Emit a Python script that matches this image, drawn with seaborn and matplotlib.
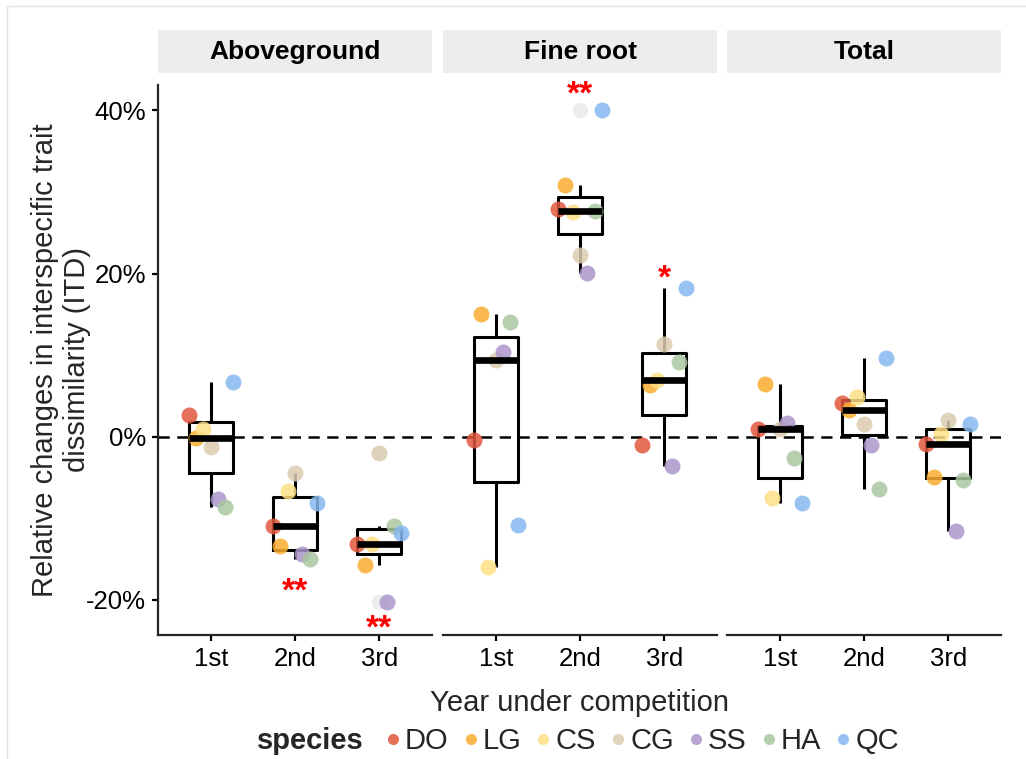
import numpy as np
import pandas as pd
import matplotlib
matplotlib.use("Agg")
import matplotlib.pyplot as plt
import matplotlib.transforms as mtransforms
from matplotlib.patches import Rectangle
from matplotlib.lines import Line2D
import seaborn as sns

# ---------------- data ----------------
panels = ["Aboveground", "Fine root", "Total"]
years = ["1st", "2nd", "3rd"]
species = ["DO", "LG", "CS", "CG", "SS", "HA", "QC"]
species_colors = ["#E2583E", "#F8AD2F", "#FDE084", "#DCCCB0", "#AD95C9", "#A8C7A1", "#86B8EF"]

# relative change (%) per species (order as in `species`)
aboveground_1st = [2.6, -0.2, 0.9, -1.3, -7.6, -8.6, 6.7]
aboveground_2nd = [-11.0, -13.4, -6.6, -4.5, -14.4, -15.0, -8.1]
aboveground_3rd = [-13.1, -15.7, -13.1, -2.0, -20.3, -10.9, -11.8]

fineroot_1st = [-0.4, 15.0, -16.0, 9.4, 10.4, 14.0, -10.8]
fineroot_2nd = [27.9, 30.9, 27.5, 22.3, 20.1, 27.6, 40.0]
fineroot_3rd = [-1.0, 6.3, 7.0, 11.4, -3.6, 9.1, 18.2]

total_1st = [1.0, 6.5, -7.5, 1.0, 1.7, -2.6, -8.1]
total_2nd = [4.1, 3.3, 4.9, 1.5, -1.0, -6.4, 9.7]
total_3rd = [-0.9, -4.9, 0.3, 2.0, -11.6, -5.3, 1.5]

y_ticks = [-20, 0, 20, 40]
y_ticklabels = ["-20%", "0%", "20%", "40%"]

sig_panel = ["Aboveground", "Aboveground", "Fine root", "Fine root"]
sig_year = ["2nd", "3rd", "2nd", "3rd"]
sig_label = ["**", "**", "**", "*"]
sig_y = [-18.1, -22.6, 42.8, 20.3]

values = {
    "Aboveground": [aboveground_1st, aboveground_2nd, aboveground_3rd],
    "Fine root": [fineroot_1st, fineroot_2nd, fineroot_3rd],
    "Total": [total_1st, total_2nd, total_3rd],
}
rows = []
for p in panels:
    for yi, yr in enumerate(years):
        for si, sp in enumerate(species):
            rows.append({"panel": p, "year": yr, "species": sp, "value": values[p][yi][si]})
df = pd.DataFrame(rows)
palette = dict(zip(species, species_colors))

# ---------------- style ----------------
sns.set_theme(style="ticks")
plt.rcParams["font.family"] = ["Liberation Sans", "DejaVu Sans"]

W, H = 1026, 759
fig = plt.figure(figsize=(W / 100, H / 100), dpi=100)
fig.patch.set_facecolor("white")

lefts = [158, 443, 727]
pw = 274
ptop, pbot = 85, 635

axes = {}
for i, p in enumerate(panels):
    ax = fig.add_axes([lefts[i] / W, 1 - pbot / H, pw / W, (pbot - ptop) / H])
    axes[p] = ax
    sub = df[df["panel"] == p]
    ax.axhline(0, color="black", lw=1.8, ls=(0, (4.5, 3)), zorder=1)
    sns.boxplot(
        data=sub, x="year", y="value", order=years, width=0.52, fill=False,
        color="black", linecolor="black", linewidth=2.2, whis=1.6,
        medianprops=dict(linewidth=4.8, color="black"),
        capprops=dict(visible=False),
        flierprops=dict(marker="o", markersize=11, markerfacecolor="#C4C4C4",
                        markeredgecolor="none", alpha=0.3),
        ax=ax,
    )
    sns.pointplot(
        data=sub, x="year", y="value", hue="species", order=years,
        hue_order=species, palette=palette, dodge=0.52, errorbar=None,
        linestyle="none", markers="o", markersize=11.5, markeredgewidth=0,
        alpha=0.85, legend=False, ax=ax,
    )
    ax.set_xlim(-0.625, 2.625)
    ax.set_ylim(-24.3, 43.1)
    ax.set_xlabel("")
    ax.set_ylabel("")
    for s in ["top", "right"]:
        ax.spines[s].set_visible(False)
    ax.spines["bottom"].set_linewidth(1.6)
    ax.spines["left"].set_linewidth(1.6)
    ax.tick_params(axis="both", length=4.5, width=1.6, labelsize=18.5,
                   colors="black", pad=4)
    ax.set_xticks(range(len(years)))
    ax.set_xticklabels(years)
    if i == 0:
        ax.set_yticks(y_ticks)
        ax.set_yticklabels(y_ticklabels)
    else:
        ax.spines["left"].set_visible(False)
        ax.tick_params(axis="y", left=False, labelleft=False)
    ax.set_facecolor("none")
    # strip
    sb = 1 + (ptop - 73) / (pbot - ptop)
    sh = 43 / (pbot - ptop)
    ax.add_patch(Rectangle((0, sb), 1, sh, transform=ax.transAxes,
                           facecolor="#EDEDED", edgecolor="none", clip_on=False))
    ax.text(0.5, sb + sh / 2, p, transform=ax.transAxes, ha="center",
            va="center", fontsize=19, fontweight="bold", color="black")

# significance marks
off = mtransforms.ScaledTranslation(0, -0.08, fig.dpi_scale_trans)
for p, yr, lab, yv in zip(sig_panel, sig_year, sig_label, sig_y):
    ax = axes[p]
    ax.text(years.index(yr), yv, lab, color="red", fontsize=24,
            fontweight="bold", ha="center", va="center",
            transform=ax.transData + off, clip_on=False, zorder=6)

# axis titles
fig.text(61 / W, 1 - 360 / H,
         "Relative changes in interspecific trait\ndissimilarity (ITD)",
         rotation=90, ha="center", va="center", fontsize=21,
         linespacing=1.15, multialignment="center")
fig.text(579 / W, 1 - 711 / H, "Year under competition", ha="center",
         va="baseline", fontsize=21)

# legend
handles = [Line2D([], [], marker="o", linestyle="none", markersize=8,
                  markerfacecolor=c, markeredgewidth=0, alpha=0.85)
           for c in species_colors]
fig.legend(handles, species, loc="center", bbox_to_anchor=(643 / W, 1 - 741 / H),
           ncol=len(species), frameon=False, fontsize=21, handlelength=0.4,
           handletextpad=0.22, columnspacing=0.55, borderpad=0,
           borderaxespad=0, numpoints=1)
fig.text(257 / W, 1 - 741 / H, "species", fontweight="bold", fontsize=21,
         ha="left", va="center")

# faint outer frame
fig.patches.append(Rectangle((7 / W, -0.05), 1.1, 1 - 6 / H + 0.05,
                             transform=fig.transFigure, fill=False,
                             edgecolor="#E3E3E3", lw=1))

fig.savefig("out.png", dpi=100)
